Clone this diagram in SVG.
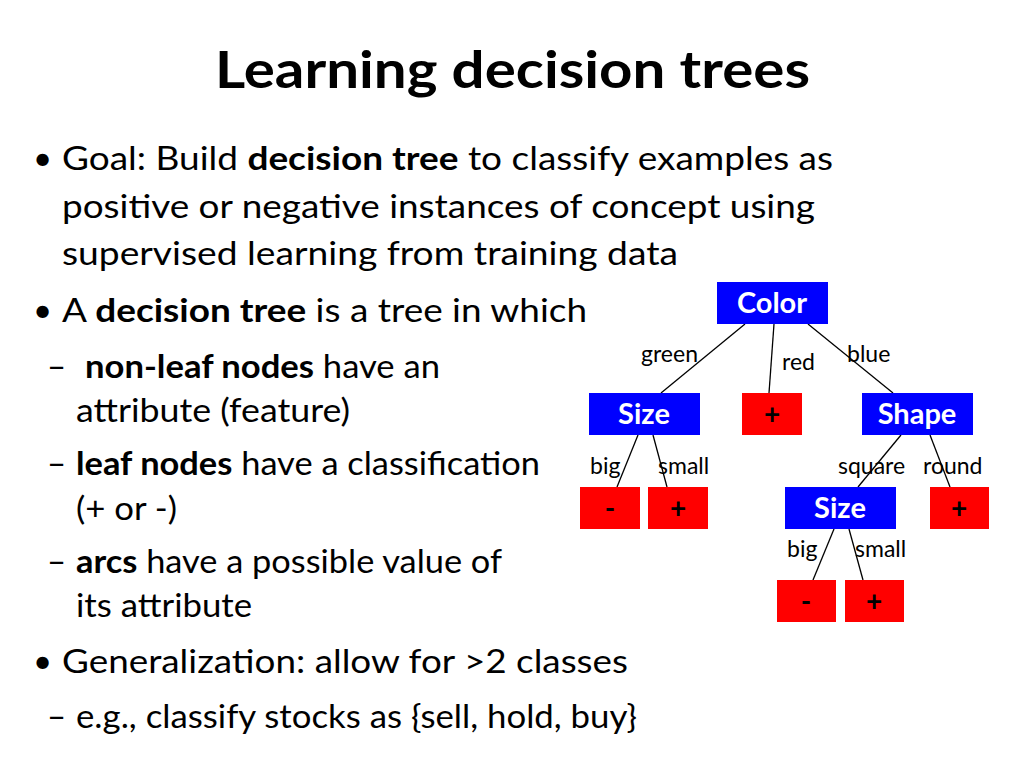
<svg xmlns="http://www.w3.org/2000/svg" width="1024" height="768" viewBox="0 0 1024 768">
<style>
text{font-family:Lato,"Open Sans","Liberation Sans",sans-serif;fill:#000}
.t{font-size:52px;font-weight:bold}
.b{font-size:33px}
.bold{font-weight:bold}
.in{fill:#0000ff}
.lf{fill:#ff0000}
.nl{font-size:29px;font-weight:bold;fill:#fff;text-anchor:middle}
.ll{font-size:28px;font-weight:bold;fill:#000;text-anchor:middle}
.el{font-size:23px}
.c line{stroke:#000;stroke-width:1.3}
</style>
<rect width="1024" height="768" fill="#fff"/>
<text class="t" x="215" y="88" textLength="595" lengthAdjust="spacingAndGlyphs">Learning decision trees</text>
<g id="body">
<text class="b" x="33" y="170">•</text>
<text class="b" x="62" y="170" textLength="771" lengthAdjust="spacingAndGlyphs">Goal: Build <tspan class="bold">decision tree</tspan> to classify examples as</text>
<text class="b" x="62" y="218" textLength="753" lengthAdjust="spacingAndGlyphs">positive or negative instances of concept using</text>
<text class="b" x="62" y="265" textLength="616" lengthAdjust="spacingAndGlyphs">supervised learning from training data</text>
<text class="b" x="33" y="322">•</text>
<text class="b" x="62" y="322" textLength="525" lengthAdjust="spacingAndGlyphs">A <tspan class="bold">decision tree</tspan> is a tree in which</text>
<text class="b" x="47" y="378">–</text>
<text class="b" x="85" y="378" textLength="355" lengthAdjust="spacingAndGlyphs"><tspan class="bold">non-leaf nodes</tspan> have an</text>
<text class="b" x="76" y="422" textLength="274" lengthAdjust="spacingAndGlyphs">attribute (feature)</text>
<text class="b" x="47" y="475">–</text>
<text class="b" x="76" y="475" textLength="464" lengthAdjust="spacingAndGlyphs"><tspan class="bold">leaf nodes</tspan> have a classification</text>
<text class="b" x="76" y="520" textLength="101" lengthAdjust="spacingAndGlyphs">(+ or -)</text>
<text class="b" x="47" y="573">–</text>
<text class="b" x="76" y="573" textLength="426" lengthAdjust="spacingAndGlyphs"><tspan class="bold">arcs</tspan> have a possible value of</text>
<text class="b" x="76" y="617" textLength="176" lengthAdjust="spacingAndGlyphs">its attribute</text>
<text class="b" x="33" y="673">•</text>
<text class="b" x="62" y="673" textLength="566" lengthAdjust="spacingAndGlyphs">Generalization: allow for &gt;2 classes</text>
<text class="b" x="47" y="728">–</text>
<text class="b" x="76" y="728" textLength="561" lengthAdjust="spacingAndGlyphs">e.g., classify stocks as {sell, hold, buy}</text>
</g>
<g class="c">
<line x1="745" y1="324" x2="661" y2="393"/>
<line x1="774" y1="324" x2="769" y2="393"/>
<line x1="808" y1="324" x2="893" y2="393"/>
<line x1="638" y1="435" x2="617" y2="487"/>
<line x1="653" y1="435" x2="667" y2="487"/>
<line x1="901" y1="435" x2="858" y2="487"/>
<line x1="930" y1="435" x2="950" y2="487"/>
<line x1="834" y1="529" x2="813" y2="580"/>
<line x1="849" y1="529" x2="863" y2="580"/>
<text class="el" x="641" y="362">green</text>
<text class="el" x="782" y="370">red</text>
<text class="el" x="847" y="362">blue</text>
<text class="el" x="590" y="474">big</text>
<text class="el" x="658" y="474">small</text>
<text class="el" x="838" y="474">square</text>
<text class="el" x="923" y="474">round</text>
<text class="el" x="787" y="557">big</text>
<text class="el" x="855" y="557">small</text>
</g>
<g id="color"><rect class="in" x="717" y="282" width="111" height="42"/><text class="nl" x="772" y="313">Color</text></g>
<g id="size1"><rect class="in" x="589" y="393" width="111" height="42"/><text class="nl" x="644" y="424">Size</text></g>
<g id="redplus"><rect class="lf" x="742" y="393" width="60" height="42"/><text class="ll" x="772" y="424">+</text></g>
<g id="shape"><rect class="in" x="862" y="393" width="111" height="42"/><text class="nl" x="917" y="424">Shape</text></g>
<g id="bigminus"><rect class="lf" x="580" y="487" width="60" height="42"/><text class="ll" x="610" y="518">-</text></g>
<g id="smallplus"><rect class="lf" x="648" y="487" width="60" height="42"/><text class="ll" x="678" y="518">+</text></g>
<g id="size2"><rect class="in" x="785" y="487" width="111" height="42"/><text class="nl" x="840" y="518">Size</text></g>
<g id="roundplus"><rect class="lf" x="930" y="487" width="59" height="42"/><text class="ll" x="959" y="518">+</text></g>
<g id="bigminus2"><rect class="lf" x="777" y="580" width="59" height="42"/><text class="ll" x="806" y="611">-</text></g>
<g id="smallplus2"><rect class="lf" x="845" y="580" width="59" height="42"/><text class="ll" x="874" y="611">+</text></g>
</svg>
